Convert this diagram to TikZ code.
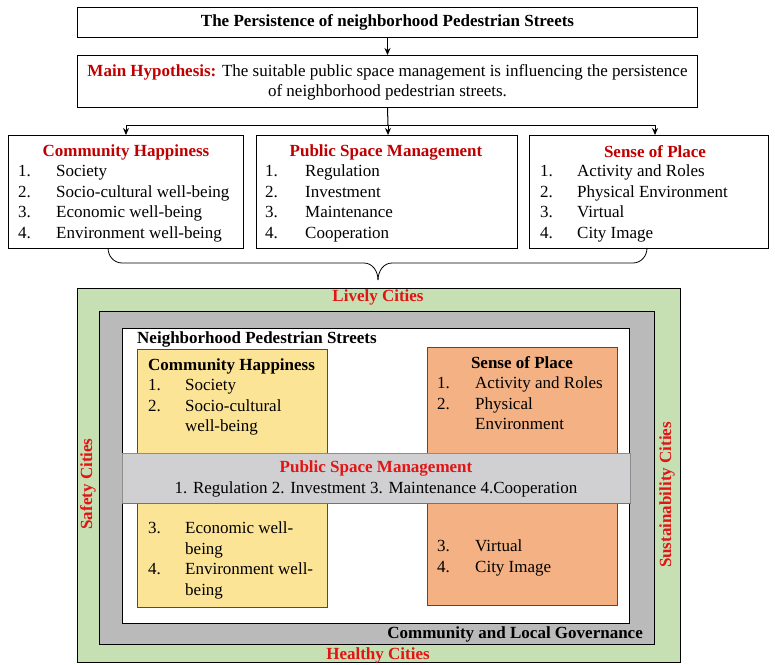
\documentclass[tikz,border=0pt]{standalone}
\usepackage{fontspec}
\setmainfont{Liberation Serif}
\usetikzlibrary{arrows.meta,calc}
\definecolor{dred}{RGB}{192,0,0}
\definecolor{bred}{RGB}{226,20,20}
\definecolor{lgreen}{RGB}{198,224,180}
\definecolor{bandgray}{RGB}{186,186,186}
\definecolor{lyellow}{RGB}{252,228,150}
\definecolor{lorange}{RGB}{244,177,131}
\definecolor{psmgray}{RGB}{208,208,210}
\tikzset{
  box/.style={draw=black, line width=1pt, inner sep=0pt, anchor=north west},
  inbox/.style={draw=black!70, line width=0.7pt, inner sep=0pt, anchor=north west},
  arr/.style={line width=1pt, -{Stealth[length=7pt,width=6pt]}},
  conn/.style={line width=1pt},
  hd/.style={font=\fontsize{17}{20.5}\selectfont\bfseries, inner sep=0pt},
  lst/.style={anchor=north west, inner sep=0pt, font=\fontsize{17}{20.5}\selectfont},
}
\newcommand{\numlist}[2]{\begin{tabular}{@{}p{#1}@{}l@{}}#2\end{tabular}}
\begin{document}
\begin{tikzpicture}[x=1pt,y=-1pt,font=\fontsize{17}{20.5}\selectfont]
\useasboundingbox (0,0) rectangle (775,664);
% ---------- top part ----------
\node[box, minimum width=620pt, minimum height=30pt] (title) at (77,7) {};
\node[hd] (titletext) at (title.center) {The Persistence of neighborhood Pedestrian Streets};
\node[box, minimum width=620pt, minimum height=52pt] (hyp) at (77,55) {};
\node[inner sep=0pt, align=center] (hyptext) at ($(hyp.center)+(0,1)$) {{\color{dred}\bfseries Main Hypothesis:} The suitable public space management is influencing the persistence\\of neighborhood pedestrian streets.};
\draw[arr] (title.south) -- (hyp.north);

\node[box, minimum width=235pt, minimum height=113pt] (ch) at (8,135) {};
\node[box, minimum width=261pt, minimum height=113pt] (psm) at (256,135) {};
\node[box, minimum width=239pt, minimum height=113pt] (sop) at (529,135) {};

\coordinate (jn) at (388,125);
\coordinate (jl) at (126,125);
\coordinate (jr) at (655,125);
\draw[conn] (hyp.south) -- (jn);
\draw[conn] (jl) -- (jr);
\draw[arr] (jl) -- (jl |- ch.north);
\draw[arr] (jn) -- (jn |- psm.north);
\draw[arr] (jr) -- (jr |- sop.north);

\node[hd, text=dred] (chh) at (126,152) {Community Happiness};
\node[lst] (chl) at (18,162) {\numlist{38pt}{1. & Society\\ 2. & Socio-cultural well-being\\ 3. & Economic well-being\\ 4. & Environment well-being}};
\node[hd, text=dred] (psmh) at (386,152) {Public Space Management};
\node[lst] (psml) at (265,162) {\numlist{40pt}{1. & Regulation\\ 2. & Investment\\ 3. & Maintenance\\ 4. & Cooperation}};
\node[hd, text=dred] (soph) at (655,152) {Sense of Place};
\node[lst] (sopl) at (540,162) {\numlist{37pt}{1. & Activity and Roles\\ 2. & Physical Environment\\ 3. & Virtual\\ 4. & City Image}};

% brace
\coordinate (bl) at (108,248);
\coordinate (br) at (647,248);
\coordinate (bt) at (378,280);
\draw[line width=0.8pt] (bl) to[out=-90,in=180] (122,263) -- (364,263) to[out=0,in=90] (bt);
\draw[line width=0.8pt] (bt) to[out=90,in=180] (392,263) -- (633,263) to[out=0,in=-90] (br);

% ---------- nested diagram ----------
\node[box, fill=lgreen, minimum width=603pt, minimum height=374pt] (green) at (77,288) {};
\node[box, fill=bandgray, minimum width=555pt, minimum height=333pt] (gray) at (99,311) {};
\node[box, fill=white, minimum width=507pt, minimum height=295pt] (white) at (122,328) {};
\node[inbox, fill=lyellow, minimum width=190pt, minimum height=258pt] (ybox) at (137,349) {};
\node[inbox, fill=lorange, minimum width=190pt, minimum height=258pt] (obox) at (427,347) {};
\node[draw=black!45, line width=0.7pt, fill=psmgray, inner sep=0pt, anchor=north west, minimum width=508pt, minimum height=50pt] (band) at (122,453) {};
\draw[black!55, line width=1pt] (band.south west) -- (band.south east);

\node[hd, text=bred] (lively) at (378,297) {Lively Cities};
\node[hd, text=bred] (healthy) at (378,655) {Healthy Cities};
\node[hd, text=bred, rotate=90] (safety) at (88,484) {Safety Cities};
\node[hd, text=bred, rotate=90] (sustain) at (667,495) {Sustainability Cities};
\node[hd, anchor=west] (nps) at (137,339) {Neighborhood Pedestrian Streets};
\node[hd, anchor=east] (clg) at (643,634) {Community and Local Governance};

\node[hd, anchor=west] (ych) at (148,366) {Community Happiness};
\node[lst] (yl1) at (148,376) {\numlist{37pt}{1. & Society\\ 2. & Socio-cultural\\ & well-being}};
\node[lst] (yl2) at (148,519) {\numlist{37pt}{3. & Economic well-\\ & being\\ 4. & Environment well-\\ & being}};

\node[hd] (osp) at (522,363) {Sense of Place};
\node[lst] (ol1) at (437,374) {\numlist{38pt}{1. & Activity and Roles\\ 2. & Physical\\ & Environment}};
\node[lst] (ol2) at (437,537) {\numlist{38pt}{3. & Virtual\\ 4. & City Image}};

\node[hd, text=bred] (psmt) at (376,468) {Public Space Management};
\node[inner sep=0pt] (psmi) at (376,489) {1. Regulation 2. Investment 3. Maintenance 4.Cooperation};
\end{tikzpicture}
\end{document}
